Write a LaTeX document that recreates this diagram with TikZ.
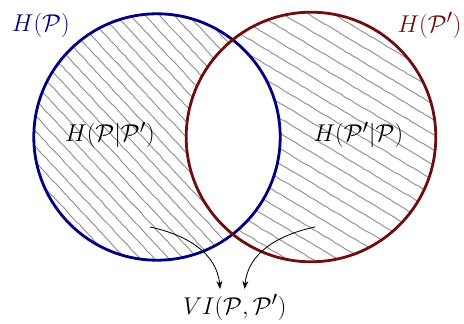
\documentclass[tikz,border=0pt]{standalone}
\usepackage{amsmath,amssymb}
\usetikzlibrary{arrows.meta,decorations.pathmorphing,calc}
\definecolor{setblue}{RGB}{0,0,128}
\definecolor{setred}{RGB}{110,14,14}

\begin{document}
\begin{tikzpicture}[
    setcircle/.style={circle, line width=2pt, minimum size=6.16cm, inner sep=0pt},
    lbl/.style={font=\fontsize{19pt}{22pt}\selectfont},
    hatch/.style={gray!85, line width=0.7pt, decorate,
        decoration={random steps, segment length=3pt, amplitude=0.25pt}},
    arr/.style={-{Stealth[length=2mm]}, semithick}]

    \useasboundingbox (0,0) rectangle (11.6,8.075);
    \coordinate (cP) at (3.925,4.65);
    \coordinate (cQ) at (7.775,4.65);

    % Hatching of H(P|P')
    \begin{scope}[even odd rule]
        \clip (cP) circle (3.08);
        \clip (0,0) rectangle (11.6,8.075) (cQ) circle (3.12);
        \begin{scope}[shift={(cP)}, rotate=-47]
            \foreach \k in {-12,...,12}
                \draw[hatch] (-3.4,\k*0.265) -- (3.4,\k*0.265);
        \end{scope}
    \end{scope}

    % Hatching of H(P'|P)
    \begin{scope}[even odd rule]
        \clip (cQ) circle (3.12);
        \clip (0,0) rectangle (11.6,8.075) (cP) circle (3.08);
        \begin{scope}[shift={(cQ)}, rotate=-31]
            \foreach \k in {-10,...,10}
                \draw[hatch] (-3.4,\k*0.325) -- (3.4,\k*0.325);
        \end{scope}
    \end{scope}

    % Sets
    \node[setcircle, draw=setblue] (P) at (cP) {};
    \node[setcircle, draw=setred, minimum size=6.24cm] (Q) at (cQ) {};

    % Labels
    \node[lbl, text=setblue] (HP) at (1.02,7.45) {$H(\mathcal{P})$};
    \node[lbl, text=setred] (HQ) at (10.74,7.45) {$H(\mathcal{P}')$};
    \node[lbl] (HPQ) at (2.75,4.7) {$H(\mathcal{P}|\mathcal{P}')$};
    \node[lbl] (HQP) at (8.96,4.7) {$H(\mathcal{P}'|\mathcal{P})$};
    \node[lbl] (VI) at (5.87,0.4) {$VI(\mathcal{P},\mathcal{P}')$};

    % Arrows
    \coordinate (a1) at (3.75,2.4);
    \coordinate (a2) at (7.875,2.4);
    \draw[arr] (a1) to[out=-12, in=95] ([xshift=-10.5pt]VI.north);
    \draw[arr] (a2) to[out=192, in=85] ([xshift=7pt]VI.north);
\end{tikzpicture}
\end{document}
